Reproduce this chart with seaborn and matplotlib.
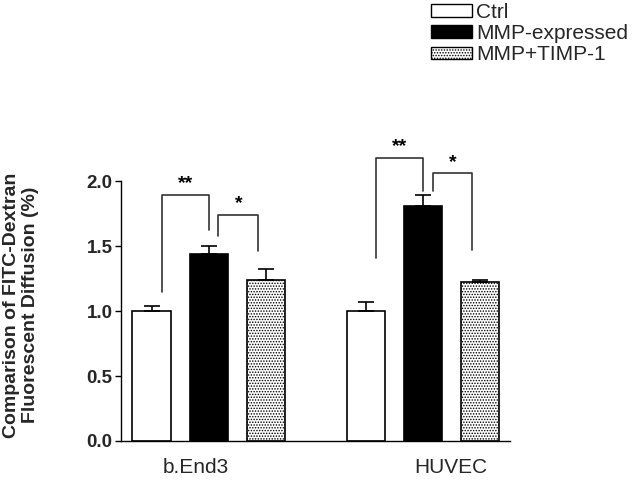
import matplotlib
matplotlib.use("Agg")
import matplotlib.pyplot as plt
import seaborn as sns
import pandas as pd
import numpy as np
from matplotlib.patches import Patch

# ---- data ----
cells = ["b.End3", "HUVEC"]
groups = ["Ctrl", "MMP-expressed", "MMP+TIMP-1"]
means_bend3 = [1.00, 1.44, 1.24]
means_huvec = [1.00, 1.81, 1.22]
sem_bend3 = [0.04, 0.06, 0.08]
sem_huvec = [0.07, 0.08, 0.02]
yticks = [0.0, 0.5, 1.0, 1.5, 2.0]
ytick_labels = ["0.0", "0.5", "1.0", "1.5", "2.0"]
ylabel_text = "Comparison of FITC-Dextran\nFluorescent Diffusion (%)"
# significance brackets: (cell, left group, right group, top, left-leg bottom, right-leg bottom, label)
brackets = [
    ("b.End3", "Ctrl", "MMP-expressed", 1.895, 1.15, 1.62, "**"),
    ("b.End3", "MMP-expressed", "MMP+TIMP-1", 1.74, 1.58, 1.46, "*"),
    ("HUVEC", "Ctrl", "MMP-expressed", 2.18, 1.41, 1.92, "**"),
    ("HUVEC", "MMP-expressed", "MMP+TIMP-1", 2.06, 1.92, 1.47, "*"),
]

df = pd.DataFrame({
    "cell": [c for c in cells for _ in groups],
    "group": groups * 2,
    "value": means_bend3 + means_huvec,
    "err": sem_bend3 + sem_huvec,
})

sns.set_theme(style="ticks")
plt.rcParams["font.family"] = ["Liberation Sans", "DejaVu Sans"]
plt.rcParams["hatch.linewidth"] = 0.7

fig = plt.figure(figsize=(6.32, 4.86), dpi=100)
ax = fig.add_axes([0.191, 0.0926, 0.616, 0.615])

palette = {"Ctrl": "white", "MMP-expressed": "black", "MMP+TIMP-1": "white"}
sns.barplot(data=df, x="cell", y="value", hue="group", order=cells,
            hue_order=groups, palette=palette, edgecolor="black",
            linewidth=1.2, gap=0.33, errorbar=None, legend=False, ax=ax)

# map patches to (cell, group)
bars = [p for p in ax.patches if p.get_height() > 0]
bars = sorted(bars, key=lambda p: p.get_x())
centers = {}
k = 0
for ci, c in enumerate(cells):
    for gi, g in enumerate(groups):
        p = bars[k]
        k += 1
        centers[(c, g)] = p.get_x() + p.get_width() / 2
        if g == "MMP+TIMP-1":
            p.set_hatch("......")
        row = df[(df["cell"] == c) & (df["group"] == g)].iloc[0]
        ax.errorbar(centers[(c, g)], row["value"], yerr=[[0], [row["err"]]],
                    fmt="none", ecolor="black", elinewidth=1.2,
                    capsize=6, capthick=1.2, zorder=1)

# significance brackets
offsets = {("Ctrl", "left"): 0.05, ("MMP-expressed", "left"): 0.045,
           ("MMP-expressed", "right"): 0.0, ("MMP+TIMP-1", "right"): -0.035}
for c, gl, gr, top, lb, rb, lab in brackets:
    xl = centers[(c, gl)] + offsets[(gl, "left")]
    xr = centers[(c, gr)] + offsets[(gr, "right")]
    ax.plot([xl, xl, xr, xr], [lb, top, top, rb], color="#333333", lw=1.2,
            clip_on=False)
    ax.text((xl + xr) / 2, top + 0.02, lab, ha="center", va="bottom",
            fontsize=14, fontweight="bold", color="black")

ax.set_xlim(-0.411, 1.407)
ax.set_ylim(0, 2.3)
ax.set_yticks(yticks)
ax.set_yticklabels(ytick_labels, fontsize=13.5, fontweight="bold")
ax.spines["left"].set_bounds(0, 2.0)
ax.spines["top"].set_visible(False)
ax.spines["right"].set_visible(False)
for s in ["left", "bottom"]:
    ax.spines[s].set_linewidth(1.0)
    ax.spines[s].set_color("black")
ax.tick_params(axis="y", length=4.5, width=1.0, color="black", pad=1.5)
ax.set_xticks([-0.06, 1.13])
ax.set_xticklabels(cells, fontsize=15)
ax.tick_params(axis="x", length=0, pad=12)
ax.set_xlabel("")
ax.set_ylabel("")

fig.text(21 / 632, 1 - 305 / 486, ylabel_text, rotation=90, ha="center",
         va="center", multialignment="center", fontsize=14, fontweight="bold")

handles = [Patch(facecolor="white", edgecolor="black", lw=1.0),
           Patch(facecolor="black", edgecolor="black", lw=1.0),
           Patch(facecolor="white", edgecolor="black", lw=1.0, hatch="......")]
fig.legend(handles, groups, loc="upper left",
           bbox_to_anchor=(431 / 632, 1 - 3 / 486), frameon=False,
           fontsize=15, handlelength=1.95, handleheight=0.55,
           handletextpad=0.2, labelspacing=0.1, borderpad=0,
           borderaxespad=0)

fig.savefig("out.png", dpi=100)
